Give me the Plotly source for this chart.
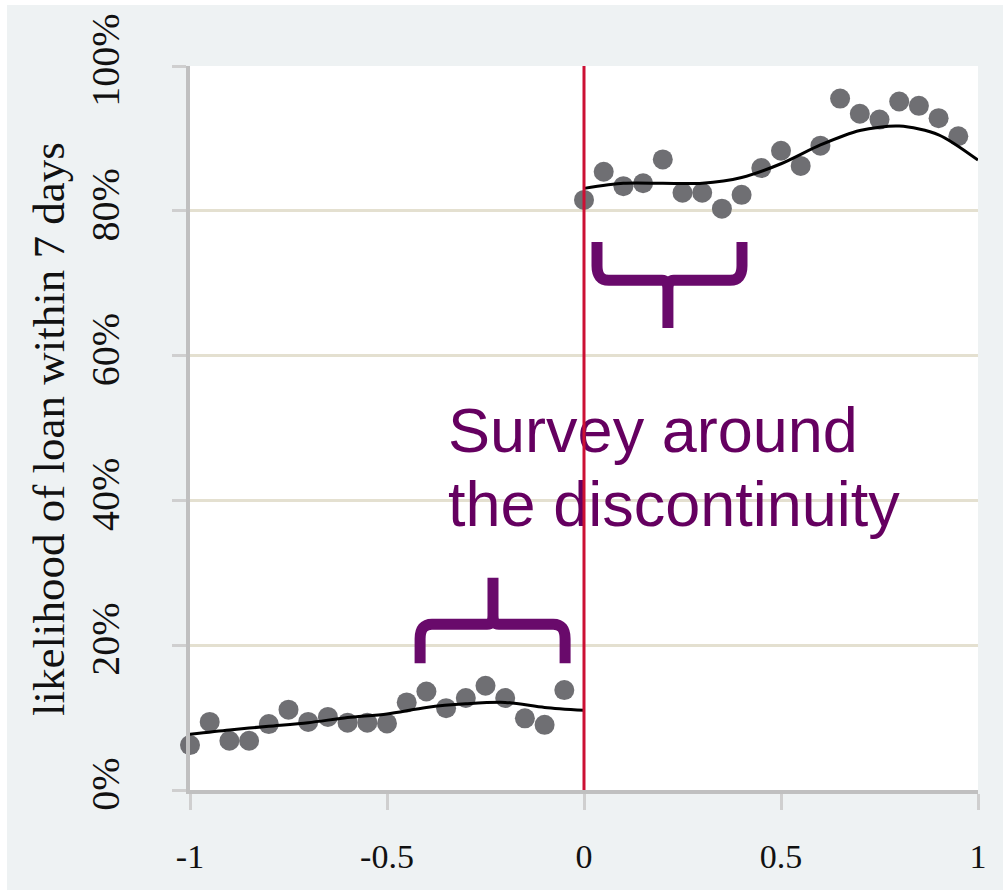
import plotly.graph_objects as go

# Binned means of the outcome on each side of the cutoff (share, %)
left_x = [-1.00, -0.95, -0.90, -0.85, -0.80, -0.75, -0.70, -0.65, -0.60, -0.55,
          -0.50, -0.45, -0.40, -0.35, -0.30, -0.25, -0.20, -0.15, -0.10, -0.05]
left_y = [6.2, 9.4, 6.8, 6.8, 9.1, 11.1, 9.4, 10.1, 9.3, 9.3,
          9.2, 12.1, 13.6, 11.3, 12.7, 14.4, 12.7, 9.9, 9.0, 13.8]

right_x = [0.00, 0.05, 0.10, 0.15, 0.20, 0.25, 0.30, 0.35, 0.40, 0.45,
           0.50, 0.55, 0.60, 0.65, 0.70, 0.75, 0.80, 0.85, 0.90, 0.95]
right_y = [81.5, 85.4, 83.4, 83.8, 87.1, 82.5, 82.5, 80.3, 82.2, 85.9,
           88.3, 86.2, 89.0, 95.5, 93.4, 92.6, 95.1, 94.5, 92.8, 90.3]

# Fitted polynomial on each side
fit_left_x = [-1.0, -0.9, -0.8, -0.7, -0.6, -0.5, -0.4, -0.3, -0.2, -0.1, 0.0]
fit_left_y = [7.7, 8.3, 8.8, 9.3, 10.0, 10.5, 11.4, 11.9, 12.1, 11.4, 11.0]
fit_right_x = [0.0, 0.1, 0.2, 0.3, 0.4, 0.5, 0.6, 0.7, 0.8, 0.9, 1.0]
fit_right_y = [83.1, 83.8, 83.8, 83.8, 84.6, 86.5, 89.1, 91.1, 91.7, 90.5, 87.0]

y_ticks = [0, 20, 40, 60, 80, 100]
y_tick_text = ["0%", "20%", "40%", "60%", "80%", "100%"]
x_ticks = [-1, -0.5, 0, 0.5, 1]
x_tick_text = ["-1", "-0.5", "0", "0.5", "1"]

# Survey windows marked by braces: (x start, x end, x of tip, y legs, y bar, y tip)
brace_low = [-0.416, -0.048, -0.231, 17.5, 22.9, 29.3]
brace_high = [0.033, 0.401, 0.213, 75.7, 70.4, 63.8]

label_lines = ["Survey around", "the discontinuity"]
label_x = [-0.345, -0.345]
label_y = [48.9, 38.6]

PURPLE = "#690a6b"
SERIF = "Liberation Serif, Times New Roman, serif"


def brace_path(x0, x1, xm, y_leg, y_bar, y_tip, rx=0.03, ry=2.0):
    sl = 1 if y_leg > y_bar else -1
    st = 1 if y_tip > y_bar else -1
    return (
        f"M {x0},{y_leg} L {x0},{y_bar + sl * ry} "
        f"Q {x0},{y_bar} {x0 + rx},{y_bar} "
        f"L {xm - rx * 0.5},{y_bar} Q {xm},{y_bar} {xm},{y_bar + st * ry * 0.6} "
        f"L {xm},{y_tip} "
        f"M {xm},{y_bar + st * ry * 0.6} Q {xm},{y_bar} {xm + rx * 0.5},{y_bar} "
        f"L {x1 - rx},{y_bar} Q {x1},{y_bar} {x1},{y_bar + sl * ry} "
        f"L {x1},{y_leg}"
    )


fig = go.Figure()

marker = dict(size=20, color="#6f6f73")
fig.add_trace(go.Scatter(x=left_x, y=left_y, mode="markers", marker=marker,
                         cliponaxis=False, hoverinfo="skip"))
fig.add_trace(go.Scatter(x=right_x, y=right_y, mode="markers", marker=marker,
                         cliponaxis=False, hoverinfo="skip"))

line = dict(color="black", width=3, shape="spline", smoothing=0.8)
fig.add_trace(go.Scatter(x=fit_left_x, y=fit_left_y, mode="lines", line=line,
                         hoverinfo="skip"))
fig.add_trace(go.Scatter(x=fit_right_x, y=fit_right_y, mode="lines", line=line,
                         hoverinfo="skip"))

# Callout text as a text trace so the cutoff line can sit on top of it
fig.add_trace(go.Scatter(
    x=label_x, y=label_y, mode="text", text=label_lines,
    textposition="middle right",
    textfont=dict(family="Liberation Sans, Arial, sans-serif", size=63, color="#650060"),
    cliponaxis=False, hoverinfo="skip",
))

shapes = []
# Outer white edges of the panel
shapes.append(dict(type="rect", xref="paper", yref="paper",
                   x0=-190 / 788, x1=-183 / 788, y0=-0.2, y1=1.2,
                   fillcolor="white", line_width=0, layer="below"))
shapes.append(dict(type="rect", xref="paper", yref="paper",
                   x0=-0.3, x1=1.1, y0=785 / 724, y1=1.2,
                   fillcolor="white", line_width=0, layer="below"))

for b in (brace_low, brace_high):
    shapes.append(dict(type="path", xref="x", yref="y", path=brace_path(*b),
                       line=dict(color=PURPLE, width=11), layer="above"))

# Cutoff line
shapes.append(dict(type="line", xref="x", yref="paper", x0=0, x1=0, y0=0, y1=1,
                   line=dict(color="#cc1034", width=3), layer="above"))

fig.update_layout(
    width=1003, height=890,
    margin=dict(l=190, r=25, t=66, b=100),
    paper_bgcolor="#eef2f3",
    plot_bgcolor="white",
    showlegend=False,
    shapes=shapes,
    annotations=[dict(
        text="likelihood of loan within 7 days", textangle=-90,
        xref="paper", yref="paper", x=(49 - 190) / 788, y=(790 - 429) / 724,
        xanchor="center", yanchor="middle", showarrow=False,
        font=dict(family=SERIF, size=45, color="#111111"),
    )],
)

fig.update_xaxes(
    range=[-1, 1], tickvals=x_ticks, ticktext=x_tick_text,
    showgrid=False, zeroline=False,
    showline=True, linecolor="#c0c0c0", linewidth=4,
    ticks="outside", ticklen=16, tickwidth=3, tickcolor="#cfcfcf",
    tickfont=dict(family=SERIF, size=34, color="#111111"),
    ticklabelstandoff=17,
)
fig.update_yaxes(
    range=[0, 100], tickvals=y_ticks, ticktext=y_tick_text, tickangle=-90,
    showgrid=True, gridcolor="#e4e0d0", gridwidth=3, zeroline=False,
    showline=True, linecolor="#c0c0c0", linewidth=4,
    ticks="outside", ticklen=14, tickwidth=3, tickcolor="#cfcfcf",
    tickfont=dict(family=SERIF, size=40, color="#111111"),
    ticklabelstandoff=37,
)

fig.write_html("out.html")
